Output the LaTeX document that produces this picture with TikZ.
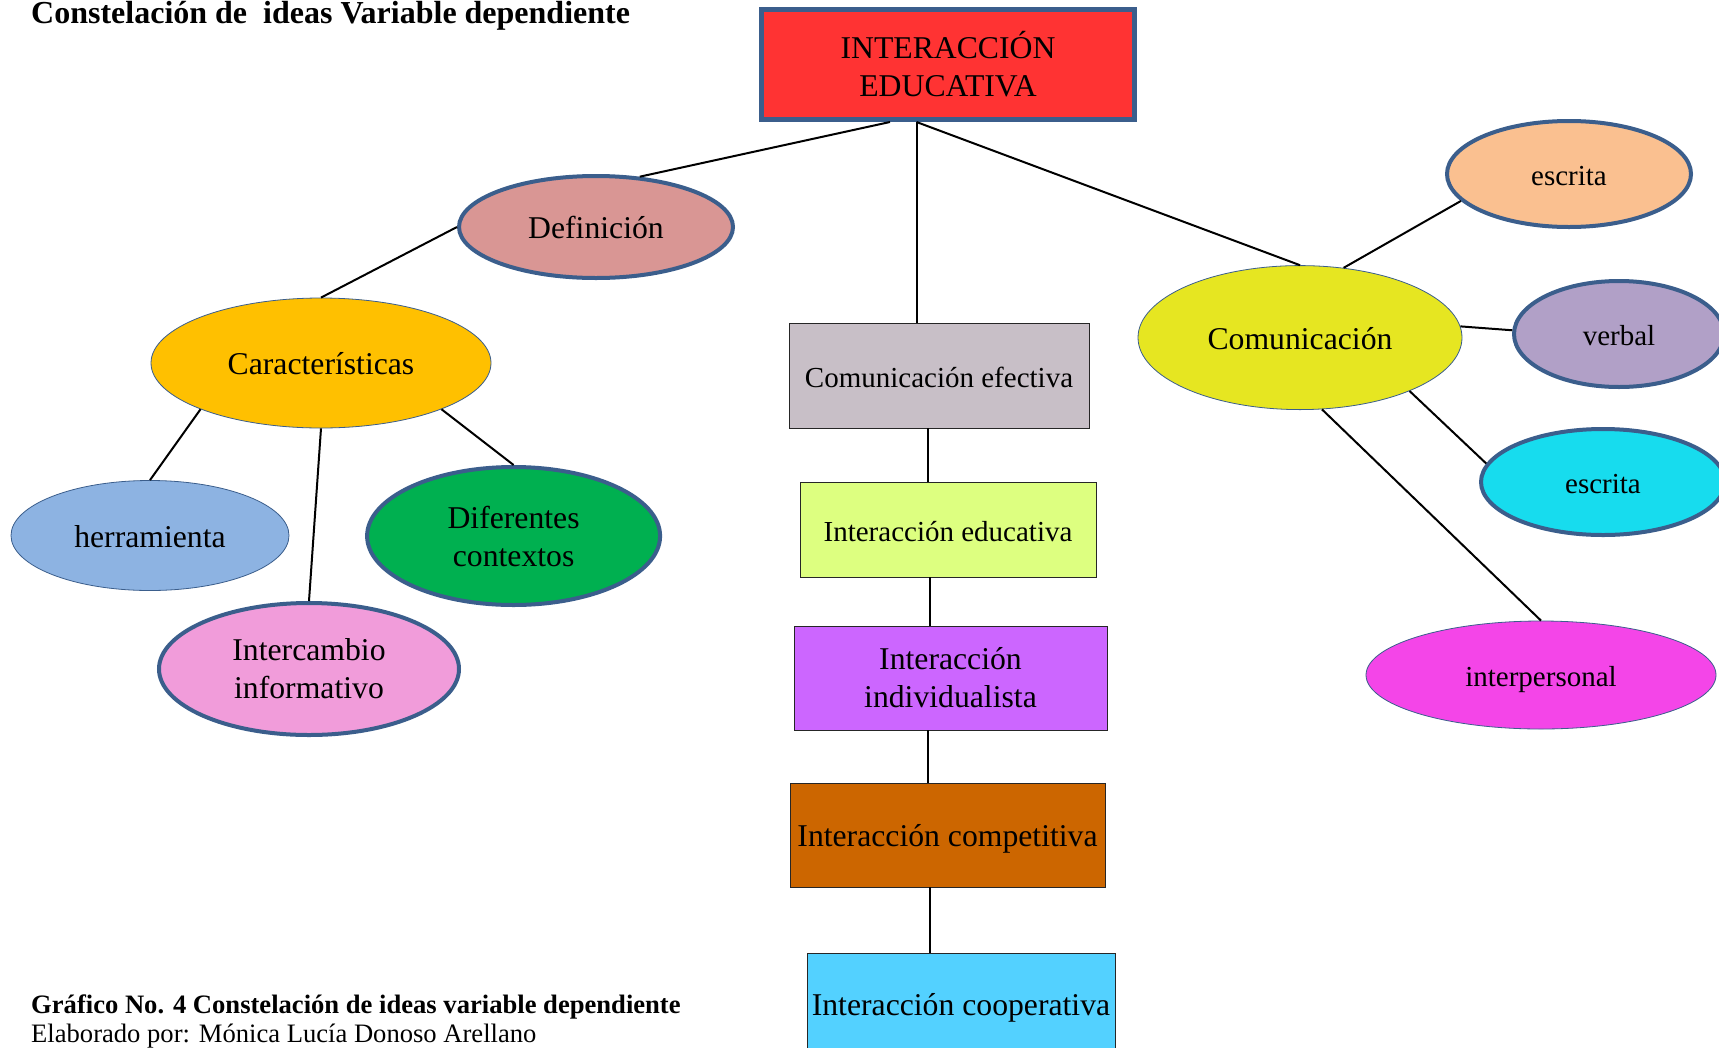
\documentclass[tikz,border=0pt]{standalone}
\usepackage{fontspec}
\setmainfont{Liberation Serif}
\usetikzlibrary{shapes.geometric,calc}
\definecolor{bd}{HTML}{3B5E8C}
\definecolor{cred}{HTML}{FF3333}
\definecolor{cdef}{HTML}{D99694}
\definecolor{ccar}{HTML}{FFC000}
\definecolor{cherr}{HTML}{8DB3E2}
\definecolor{cdif}{HTML}{00B050}
\definecolor{cint}{HTML}{F19CDA}
\definecolor{cce}{HTML}{C8BFC7}
\definecolor{cie}{HTML}{DDFF80}
\definecolor{cii}{HTML}{CC66FF}
\definecolor{ccomp}{HTML}{CC6600}
\definecolor{ccoop}{HTML}{53D1FF}
\definecolor{ccom}{HTML}{E6E621}
\definecolor{cesc}{HTML}{FAC090}
\definecolor{cverb}{HTML}{B1A0C7}
\definecolor{cesctwo}{HTML}{17DCEE}
\definecolor{cinterp}{HTML}{F445E8}
\begin{document}
\begin{tikzpicture}[x=1pt,y=-1pt,
  bigtxt/.style={font=\fontsize{31.7}{38}\selectfont},
  smalltxt/.style={font=\fontsize{29}{35}\selectfont},
  oneline/.style={text height=23pt,text depth=0pt},
  ell/.style={ellipse,inner sep=0pt,align=center},
  thickell/.style={ell,draw=bd,line width=4pt},
  thinell/.style={ell,draw=bd,line width=0.8pt},
  boxnode/.style={rectangle,draw=black!85,line width=0.8pt,inner sep=0pt,align=center},
  link/.style={draw=black,line width=2pt}]
\clip (0,0) rectangle (1719,1047);
\fill[white] (0,0) rectangle (1719,1047);

% title and caption
\node[anchor=base west,inner sep=0pt,font=\fontsize{32}{38}\selectfont\bfseries] (title) at (31,23) {Constelación de\ \ ideas Variable dependiente};
\node[anchor=base west,inner sep=0pt,font=\fontsize{26.6}{30}\selectfont\bfseries] (cap1) at (31,1013) {Gráfico No. 4 Constelación de ideas variable dependiente};
\node[anchor=base west,inner sep=0pt,font=\fontsize{26.6}{30}\selectfont] (cap2) at (31,1042) {Elaborado por: Mónica Lucía Donoso Arellano};

% top box
\node[rectangle,fill=cred,draw=bd,line width=5pt,minimum width=373pt,minimum height=110pt,inner sep=0pt,align=center,bigtxt] (top) at (948,64.5) {INTERACCIÓN\\EDUCATIVA};

% left branch
\node[thickell,fill=cdef,minimum width=274pt,minimum height=102pt,bigtxt,oneline] (def) at (596,227) {Definición};
\node[thinell,fill=ccar,minimum width=340pt,minimum height=130pt,bigtxt,oneline] (car) at (321,363) {Características};
\node[thinell,fill=cherr,minimum width=278pt,minimum height=110pt,bigtxt,oneline] (herr) at (150,535.5) {herramienta};
\node[thickell,fill=cdif,minimum width=293pt,minimum height=138pt,bigtxt] (dif) at (513.6,536) {Diferentes\\contextos};
\node[thickell,fill=cint,minimum width=300pt,minimum height=132pt,bigtxt] (intc) at (309,669) {Intercambio\\informativo};

% middle column
\node[boxnode,fill=cce,minimum width=300pt,minimum height=105pt,smalltxt,oneline] (ce) at (939,375.5) {Comunicación efectiva};
\node[boxnode,fill=cie,minimum width=296pt,minimum height=95pt,smalltxt,oneline] (ie) at (948,529.5) {Interacción educativa};
\node[boxnode,fill=cii,minimum width=313pt,minimum height=104pt,bigtxt] (ii) at (950.5,678) {Interacción\\individualista};
\node[boxnode,fill=ccomp,minimum width=315pt,minimum height=104pt,bigtxt,oneline] (comp) at (947.5,835) {Interacción competitiva};
\node[boxnode,fill=ccoop,minimum width=308pt,minimum height=102pt,bigtxt,oneline] (coop) at (961,1004) {Interacción cooperativa};

% right branch
\node[thinell,fill=ccom,minimum width=324pt,minimum height=144pt,bigtxt,oneline] (com) at (1300,337.6) {Comunicación};
\node[thickell,fill=cesc,minimum width=244pt,minimum height=106pt,smalltxt,oneline] (esc) at (1569,174) {escrita};
\node[thickell,fill=cverb,minimum width=210pt,minimum height=106pt,smalltxt,oneline] (verb) at (1619,334) {verbal};
\node[thickell,fill=cesctwo,minimum width=244pt,minimum height=106pt,smalltxt,oneline] (esctwo) at (1603,482) {escrita};
\node[thinell,fill=cinterp,minimum width=350pt,minimum height=108pt,smalltxt,oneline] (interp) at (1541,675) {interpersonal};

% connectors
\draw[link] ([xshift=-58pt]top.south) -- (def.49);
\draw[link] ([xshift=-31.5pt]top.south) -- ([xshift=-31.5pt]top.south |- ce.north);
\draw[link] ([xshift=-31.5pt]top.south) -- (com.north);
\draw[link] (def.west) -- (car.north);
\draw[link] (car.201) -- (herr.north);
\draw[link] (car.-21) -- (dif.north);
\draw[link] (car.south) -- (intc.north);
\draw[link] (com.58) -- (esc.194);
\draw[link] (com.4) -- (verb.178);
\draw[link] (com.-26.5) -- (esctwo.171);
\draw[link] (com.-73) -- (interp.north);
\draw[link] ([xshift=-11.5pt]ce.south) -- ([xshift=-11.5pt]ce.south |- ie.north);
\draw[link] ([xshift=-18.3pt]ie.south) -- ([xshift=-18.3pt]ie.south |- ii.north);
\draw[link] ([xshift=-23pt]ii.south) -- ([xshift=-23pt]ii.south |- comp.north);
\draw[link] ([xshift=-17.8pt]comp.south) -- ([xshift=-17.8pt]comp.south |- coop.north);
\end{tikzpicture}
\end{document}
